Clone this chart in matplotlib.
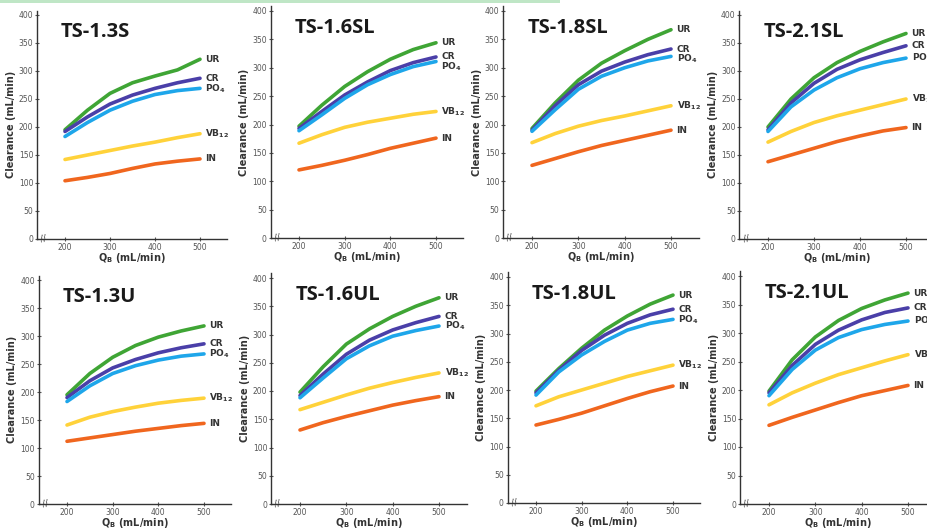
import matplotlib
matplotlib.use("Agg")
import matplotlib.pyplot as plt
import matplotlib.patches as mpatches

# ── Datos ─────────────────────────────────────────────────────────────────────
qb = [200, 250, 300, 350, 400, 450, 500]
series_names = ["UR", "CR", "PO4", "VB12", "IN"]
series_labels = ["UR", "CR", "PO$_\\mathbf{4}$", "VB$_\\mathbf{12}$", "IN"]

titles = ["TS-1.3S", "TS-1.6SL", "TS-1.8SL", "TS-2.1SL",
          "TS-1.3U", "TS-1.6UL", "TS-1.8UL", "TS-2.1UL"]

ts13s_ur = [195, 230, 260, 279, 291, 302, 321]
ts13s_cr = [192, 218, 241, 257, 269, 279, 287]
ts13s_po4 = [183, 208, 230, 246, 258, 265, 269]
ts13s_vb12 = [142, 150, 158, 166, 173, 181, 188]
ts13s_in = [104, 110, 117, 126, 134, 139, 143]

ts16sl_ur = [197, 234, 267, 293, 315, 332, 344]
ts16sl_cr = [193, 223, 252, 275, 295, 309, 319]
ts16sl_po4 = [189, 217, 246, 270, 288, 302, 311]
ts16sl_vb12 = [167, 182, 195, 204, 211, 218, 223]
ts16sl_in = [120, 128, 137, 147, 158, 167, 176]

ts18sl_ur = [193, 238, 278, 308, 330, 350, 367]
ts18sl_cr = [190, 233, 270, 294, 310, 323, 333]
ts18sl_po4 = [188, 226, 262, 285, 300, 312, 320]
ts18sl_vb12 = [168, 184, 197, 207, 215, 224, 233]
ts18sl_in = [128, 140, 152, 163, 172, 181, 190]

ts21sl_ur = [200, 250, 288, 315, 335, 352, 367]
ts21sl_cr = [195, 243, 278, 303, 320, 333, 345]
ts21sl_po4 = [192, 236, 266, 288, 304, 315, 323]
ts21sl_vb12 = [173, 192, 208, 220, 230, 240, 250]
ts21sl_in = [138, 150, 162, 174, 184, 193, 199]

ts13u_ur = [195, 233, 262, 283, 298, 309, 318]
ts13u_cr = [190, 220, 243, 258, 270, 279, 286]
ts13u_po4 = [183, 211, 233, 247, 257, 264, 268]
ts13u_vb12 = [141, 155, 165, 173, 180, 185, 189]
ts13u_in = [112, 118, 124, 130, 135, 140, 144]

ts16ul_ur = [198, 243, 283, 310, 332, 350, 365]
ts16ul_cr = [192, 230, 265, 290, 308, 321, 332]
ts16ul_po4 = [188, 223, 257, 280, 297, 307, 315]
ts16ul_vb12 = [167, 180, 193, 205, 215, 224, 232]
ts16ul_in = [131, 144, 155, 165, 175, 183, 190]

ts18ul_ur = [198, 238, 274, 306, 331, 352, 368]
ts18ul_cr = [195, 235, 270, 297, 318, 333, 343]
ts18ul_po4 = [191, 232, 262, 286, 306, 318, 325]
ts18ul_vb12 = [172, 188, 200, 212, 224, 234, 244]
ts18ul_in = [138, 148, 159, 172, 185, 197, 207]

ts21ul_ur = [198, 253, 293, 322, 343, 358, 370]
ts21ul_cr = [195, 243, 280, 305, 323, 336, 344]
ts21ul_po4 = [190, 236, 270, 292, 306, 315, 321]
ts21ul_vb12 = [174, 195, 212, 227, 239, 251, 262]
ts21ul_in = [138, 152, 165, 178, 190, 199, 208]

panels = [
    [ts13s_ur, ts13s_cr, ts13s_po4, ts13s_vb12, ts13s_in],
    [ts16sl_ur, ts16sl_cr, ts16sl_po4, ts16sl_vb12, ts16sl_in],
    [ts18sl_ur, ts18sl_cr, ts18sl_po4, ts18sl_vb12, ts18sl_in],
    [ts21sl_ur, ts21sl_cr, ts21sl_po4, ts21sl_vb12, ts21sl_in],
    [ts13u_ur, ts13u_cr, ts13u_po4, ts13u_vb12, ts13u_in],
    [ts16ul_ur, ts16ul_cr, ts16ul_po4, ts16ul_vb12, ts16ul_in],
    [ts18ul_ur, ts18ul_cr, ts18ul_po4, ts18ul_vb12, ts18ul_in],
    [ts21ul_ur, ts21ul_cr, ts21ul_po4, ts21ul_vb12, ts21ul_in],
]

COLORS = {
    "UR": "#3FA535",
    "CR": "#4A3FA8",
    "PO4": "#1EA6EA",
    "VB12": "#FFD23A",
    "IN": "#F0661E",
}

# ── Layout: posición en px de x=200, x=500, y=0, y=400 en cada panel ─────────
W, H = 928, 530
PANEL_PX = [
    (65, 200, 239, 15), (299, 436, 238, 11), (532, 671, 238, 11), (768, 906, 239, 15),
    (67, 204, 504, 280), (300, 439, 504, 278), (536, 673, 503, 277), (769, 908, 504, 276),
]
XLIM = (138, 560)
YLIM = (0, 408)

fig = plt.figure(figsize=(W / 100, H / 100), dpi=100, facecolor="white")

# franja verde superior
fig.add_artist(mpatches.Rectangle((0, 1 - 3 / H), 560 / W, 3 / H,
                                  transform=fig.transFigure, color="#BFE6C6", lw=0))

for i, (title, data) in enumerate(zip(titles, panels)):
    x200, x500, y0, y400 = PANEL_PX[i]
    sx = (x500 - x200) / 300.0
    sy = (y0 - y400) / 400.0
    left = x200 - (200 - XLIM[0]) * sx
    right = x200 + (XLIM[1] - 200) * sx
    top = y0 - YLIM[1] * sy
    ax = fig.add_axes([left / W, 1 - y0 / H, (right - left) / W, (y0 - top) / H])
    ax.set_facecolor("none")

    for name, vals in zip(series_names, data):
        ax.plot(qb, vals, color=COLORS[name], lw=2.6, solid_capstyle="round",
                solid_joinstyle="round", zorder=3)

    # etiquetas al final de cada curva, separadas un mínimo
    label_y = []
    for vals in data:
        y = vals[-1]
        if label_y and label_y[-1] - y < 17:
            y = label_y[-1] - 17
        label_y.append(y)
    for lab, y in zip(series_labels, label_y):
        ax.text(512, y, lab, fontsize=6.5, fontweight="bold", color="#333333",
                va="center", ha="left", zorder=4, clip_on=False)

    ax.text(190, 370, title, fontsize=14.5, fontweight="bold", color="#1A1A1A",
            family="Open Sans", va="center", ha="left")

    ax.set_xlim(*XLIM)
    ax.set_ylim(*YLIM)
    ax.set_xticks([200, 300, 400, 500])
    ax.set_yticks(range(0, 401, 50))
    ax.tick_params(labelsize=5.5, colors="#555555", length=2.5, width=0.8,
                   direction="inout", pad=1.5)
    ax.spines[["top", "right"]].set_visible(False)
    for s in ("left", "bottom"):
        ax.spines[s].set_color("#333333")
        ax.spines[s].set_linewidth(1.0)

    ax.set_ylabel("Clearance (mL/min)", fontsize=7, fontweight="bold",
                  color="#333333", labelpad=2)
    ax.set_xlabel("Q$_\\mathbf{B}$ (mL/min)", fontsize=7, fontweight="bold",
                  color="#333333", labelpad=-0.5)

    # marca de corte del eje x
    ax.text(152, 0, "//", fontsize=6, color="#333333", ha="center", va="center",
            rotation=10, clip_on=False)

fig.savefig("out.png", dpi=100, facecolor="white")
plt.close(fig)
